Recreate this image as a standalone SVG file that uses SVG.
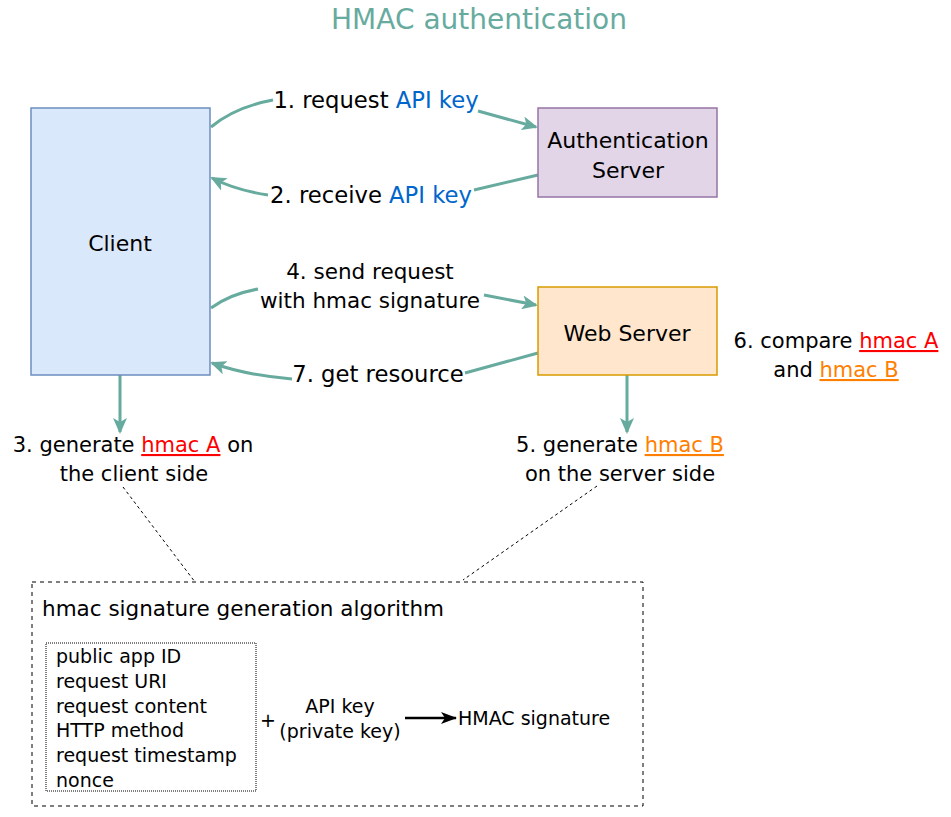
<svg xmlns="http://www.w3.org/2000/svg" width="951" height="817" viewBox="0 0 951 817">
<defs>
<style>
text{font-family:"DejaVu Sans","Liberation Sans",sans-serif;fill:#000}
.t{font-size:28px;fill:#67AB9F}
.n{font-size:22px}
.l{font-size:21px}
.w{font-size:22.7px}
.s{font-size:19px}
.c{text-anchor:middle}
.blue{fill:#0066CC}
.red{fill:#FF0000;text-decoration:underline}
.org{fill:#FF8000;text-decoration:underline}
.e{fill:none;stroke:#67AB9F;stroke-width:3}
.d{fill:none;stroke:#000;stroke-width:1;stroke-dasharray:3 3}
</style>
<marker id="ah" viewBox="0 0 16 14" refX="14" refY="7" markerWidth="16" markerHeight="14" markerUnits="userSpaceOnUse" orient="auto">
<path d="M0,0 L16,7 L0,14 L4,7 Z" fill="#67AB9F"/>
</marker>
<marker id="bh" viewBox="0 0 16 12" refX="15" refY="6" markerWidth="16" markerHeight="12" markerUnits="userSpaceOnUse" orient="auto">
<path d="M0,0 L16,6 L0,12 L4,6 Z" fill="#000"/>
</marker>
</defs>
<rect width="951" height="817" fill="#fff"/>
<text class="t c" x="479" y="29">HMAC authentication</text>

<g id="connectors">
<path class="e" d="M211,127 Q235,107 273,100"/>
<path class="e" d="M478,111 L536,127" marker-end="url(#ah)"/>
<path class="e" d="M538,175 L474,190"/>
<path class="e" d="M268,195 Q235,190 212,178" marker-end="url(#ah)"/>
<path class="e" d="M211,308 Q230,294 258,289"/>
<path class="e" d="M484,295 L536,305" marker-end="url(#ah)"/>
<path class="e" d="M538,353 L465,373"/>
<path class="e" d="M292,379 Q245,375 212,363" marker-end="url(#ah)"/>
<path class="e" d="M120,375 L120,432" marker-end="url(#ah)"/>
<path class="e" d="M627,375 L627,432" marker-end="url(#ah)"/>
<path class="d" d="M123,487 L195,582"/>
<path class="d" d="M597,486 L463,580"/>
<path d="M405,718 L456,718" fill="none" stroke="#000" stroke-width="2.5" marker-end="url(#bh)"/>
</g>

<g id="client">
<rect x="31" y="108" width="179" height="267" fill="#dae8fc" stroke="#6c8ebf" stroke-width="1.5"/>
<text class="n c" x="120" y="251">Client</text>
</g>
<g id="auth-server">
<rect x="538" y="108" width="179" height="89" fill="#e1d5e7" stroke="#9673a6" stroke-width="1.5"/>
<text class="n c" x="628" y="148">Authentication</text>
<text class="n c" x="628" y="178">Server</text>
</g>
<g id="web-server">
<rect x="538" y="287" width="179" height="88" fill="#ffe6cc" stroke="#d79b00" stroke-width="1.5"/>
<text class="n c" x="627" y="341">Web Server</text>
</g>

<g id="label1"><text class="w c" x="376" y="108">1. request <tspan class="blue">API key</tspan></text></g>
<g id="label2"><text class="w c" x="371" y="203">2. receive <tspan class="blue">API key</tspan></text></g>
<g id="label4">
<text class="l c" x="370" y="279" style="font-size:21.5px">4. send request</text>
<text class="l c" x="370" y="308" style="font-size:21.5px">with hmac signature</text>
</g>
<g id="label7"><text class="w c" x="378" y="382">7. get resource</text></g>
<g id="label3">
<text class="l c" x="133" y="452">3. generate <tspan class="red">hmac A</tspan> on</text>
<text class="l c" x="134" y="481">the client side</text>
</g>
<g id="label5">
<text class="l c" x="620" y="452">5. generate <tspan class="org">hmac B</tspan></text>
<text class="l c" x="620" y="481">on the server side</text>
</g>
<g id="label6">
<text class="l c" x="836" y="348">6. compare <tspan class="red">hmac A</tspan></text>
<text class="l c" x="836" y="377">and <tspan class="org">hmac B</tspan></text>
</g>

<g id="algorithm">
<rect x="32" y="582" width="611" height="224" fill="none" stroke="#000" stroke-width="1" stroke-dasharray="4 4"/>
<text x="42" y="616" style="font-size:21.5px">hmac signature generation algorithm</text>
<rect x="46" y="643" width="210" height="148" fill="none" stroke="#000" stroke-width="1" stroke-dasharray="1 1"/>
<text class="s" x="56" y="663">public app ID</text>
<text class="s" x="56" y="688">request URI</text>
<text class="s" x="56" y="713">request content</text>
<text class="s" x="56" y="737">HTTP method</text>
<text class="s" x="56" y="762">request timestamp</text>
<text class="s" x="56" y="787">nonce</text>
<text class="s c" x="268" y="727">+</text>
<text class="s c" x="340" y="713">API key</text>
<text class="s c" x="340" y="738">(private key)</text>
<text class="s" x="458" y="725">HMAC signature</text>
</g>
</svg>
